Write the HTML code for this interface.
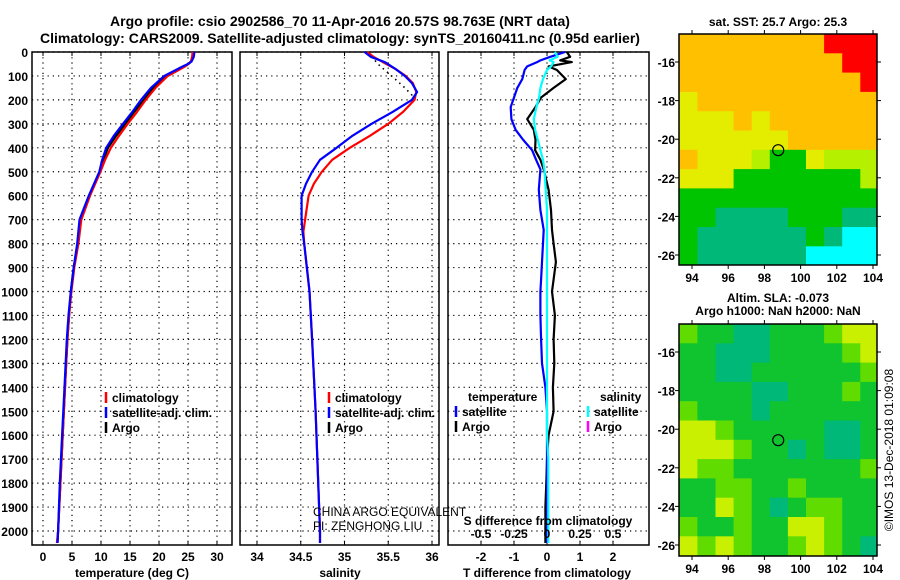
<!DOCTYPE html>
<html><head><meta charset="utf-8">
<style>
html,body{margin:0;padding:0;background:#fff;}
svg{display:block;font-family:"Liberation Sans",Arial,sans-serif;font-weight:bold;}
</style></head>
<body>
<svg id="fig" width="900" height="580" viewBox="0 0 900 580" xmlns="http://www.w3.org/2000/svg">
<text x="340" y="26" font-size="14" text-anchor="middle">Argo profile: csio 2902586_70 11-Apr-2016 20.57S 98.763E (NRT data)</text>
<text x="340" y="43" font-size="14" text-anchor="middle">Climatology: CARS2009. Satellite-adjusted climatology: synTS_20160411.nc (0.95d earlier)</text>
<g id="layer"></g>
</svg>
<script>
// ---- data ----
const depthTicks = [0,100,200,300,400,500,600,700,800,900,1000,1100,1200,1300,1400,1500,1600,1700,1800,1900,2000];
const tempTicks = [0,5,10,15,20,25,30];
const salTicks = [34,34.5,35,35.5,36];
const salTickLabels = ["34","34.5","35","35.5","36"];
const dTTicks = [-2,-1,0,1,2];
const dSTicks = [-0.5,-0.25,0,0.25,0.5];
const dSTickLabels = ["-0.5","-0.25","0","0.25","0.5"];

const tDepth   = [0,20,40,50,60,75,100,150,200,250,300,350,400,450,500,600,700,800,900,1000,1100,1200,1400,1600,1800,2000,2050];
const tArgo    = [25.9,25.8,25.5,25.0,24.3,23.2,21.3,19.0,17.4,15.7,14.2,12.6,11.2,10.4,9.8,8.0,6.5,6.0,5.3,4.8,4.5,4.2,3.8,3.4,3.0,2.6,2.5];
const tClim    = [25.8,25.7,25.5,25.1,24.5,23.4,21.5,19.4,17.7,16.2,14.6,13.1,11.7,10.7,9.9,8.1,6.6,6.1,5.4,4.9,4.5,4.2,3.8,3.4,3.0,2.6,2.4];
const tSat     = [26.1,26.0,25.6,25.0,24.1,22.9,20.9,18.6,16.9,15.4,13.8,12.2,10.9,10.2,9.7,7.9,6.3,5.9,5.3,4.8,4.4,4.1,3.7,3.3,2.9,2.6,2.5];

const sDepth   = [0,20,42,70,100,130,167,200,250,300,350,400,450,500,550,600,700,750,800,1000,1200,1500,2000,2050];
const sClim    = [35.26,35.33,35.44,35.58,35.70,35.78,35.82,35.80,35.67,35.50,35.29,35.06,34.86,34.74,34.65,34.59,34.55,34.53,34.54,34.60,34.63,34.67,34.72,34.72];
const sSat     = [35.23,35.30,35.46,35.58,35.69,35.77,35.83,35.77,35.55,35.31,35.09,34.91,34.72,34.63,34.56,34.51,34.51,34.52,34.54,34.60,34.63,34.67,34.72,34.72];
const sArgoDepth = [0,50,100,150,180,200];
const sArgo    = [35.27,35.38,35.54,35.69,35.77,35.78];

const dDepth   = [0,20,35,42,60,75,113,150,190,230,280,325,367,410,450,490,575,660,743,800,877,950,1000,1100,1200,1300,1400,1500,1600,1700,1800,1900,2000,2050];
const dTArgo   = [0.6,0.7,0.4,0.75,0.05,0.3,0.57,0.2,-0.18,-0.35,-0.6,-0.4,-0.35,-0.36,-0.2,-0.1,0.05,0.12,0.15,0.2,0.27,0.2,0.15,0.24,0.2,0.22,0.18,0.2,0.05,0.0,-0.02,-0.05,-0.05,-0.05];
const dTSat    = [0.55,0.1,-0.2,-0.3,-0.6,-0.68,-0.75,-0.9,-1.0,-1.1,-1.08,-0.95,-0.72,-0.45,-0.33,-0.2,-0.25,-0.2,-0.1,-0.12,-0.15,-0.18,-0.2,-0.2,-0.18,-0.15,-0.05,0.0,0.0,0.0,0.0,0.0,0.0,0.0];
const dSSat    = [0.06,0.08,0.02,0.05,0.03,0.0,-0.03,-0.05,-0.06,-0.08,-0.1,-0.09,-0.07,-0.05,-0.03,-0.02,-0.01,0.0,0.0,0.0,0.0,0.0,0.0,0.0,0.0,0.0,0.0,0.0,0.0,0.01,0.01,0.01,0.01,0.01];

const lonTicks = [94,96,98,100,102,104];
const latTicks = [-16,-18,-20,-22,-24,-26];
const sstRows = [
 "OOOOOOOORRR",
 "OOOOOOOOORR",
 "OOOOOOOOOOR",
 "YOOOOOOOOOO",
 "YYYOYOOOOOO",
 "YYYYYYOOOOO",
 "OYYYLGGYLLL",
 "YYYGGGGGGGL",
 "GGGGGGGGGGG",
 "GGTTTTGGGTT",
 "GTTTTTTGTCC",
 "GTTTTTTCCCC"];
const slaRows = [
 "LGGTTGGGLYY",
 "GGTTTGGGGLY",
 "GGTTGGGGGGL",
 "GGGGTTGGGLG",
 "LGGGTGGGGGG",
 "YYLGGGGGTTG",
 "YYYLGGTGTTG",
 "YLLGGGGGGGL",
 "GGLLGGLGGGG",
 "GGYLGTGLLGG",
 "LGGLGGYYLGG",
 "YLYLGGLYLGT"];
const sstColors = {O:"#ffc000",Y:"#e4ec00",L:"#b4f000",G:"#00c400",T:"#00b878",C:"#00ffff",R:"#ff0000"};
const slaColors = {G:"#10c430",T:"#00b878",L:"#60dc00",Y:"#c8f000"};
const argoLon = 98.763, argoLat = -20.57;

// ---- helpers ----
const NS="http://www.w3.org/2000/svg";
const layer=document.getElementById('layer');
function mk(tag,attrs,parent){const e=document.createElementNS(NS,tag);for(const k in attrs)e.setAttribute(k,attrs[k]);(parent||layer).appendChild(e);return e;}
function txt(s,x,y,size,anchor,parent,extra){const e=mk('text',Object.assign({x:x,y:y,'font-size':size,'text-anchor':anchor||'start'},extra||{}),parent);e.textContent=s;return e;}

const TOP=52, BOT=545;
const yD = d => TOP + d*0.2395;
const xT = t => 43 + t*5.8;
const xS = s => 257 + (s-34)*87.5;
const xDT = v => 547 + v*33;
const xDS = v => 547 + v*132;

function panel(x0,x1,name,vgrid){
  const g=mk('g',{});
  
  
  depthTicks.forEach(d=>{mk('line',{x1:x0,x2:x1,y1:yD(d),y2:yD(d),stroke:'#000','stroke-width':1.2,'stroke-dasharray':'1.2,4'},g);});
  vgrid.forEach(x=>{mk('line',{x1:x,x2:x,y1:TOP,y2:BOT,stroke:'#000','stroke-width':1.2,'stroke-dasharray':'1.2,4'},g);
    mk('line',{x1:x,x2:x,y1:BOT,y2:BOT-4,stroke:'#000'},g);mk('line',{x1:x,x2:x,y1:TOP,y2:TOP+4,stroke:'#000'},g);});
  mk('rect',{x:x0,y:TOP,width:x1-x0,height:BOT-TOP,fill:'none',stroke:'#000','stroke-width':1.5},g);
  return g;
}
function line(xs,ys,xf,color,w,name,dash){
  const pts=xs.map((v,i)=>xf(v).toFixed(1)+','+ys[i].toFixed(1)).join(' ');
  const e=mk('polyline',{points:pts,fill:'none',stroke:color,'stroke-width':w||2,'stroke-linejoin':'round'});
  if(dash)e.setAttribute('stroke-dasharray',dash);
  
  
  return e;
}
function legend(items,x,y,name){
  const g=mk('g',{});
  
  
  items.forEach((it,i)=>{
    if(it[1])mk('line',{x1:x,x2:x,y1:y+i*15-10,y2:y+i*15+1,stroke:it[1],'stroke-width':2.5},g);
    txt(it[0],x+(it[1]?6:12),y+i*15,12,'start',g);
  });
}

// ---- panel 1: temperature ----
panel(32,232,'temperature-panel',tempTicks.map(xT));
depthTicks.forEach(d=>{const t=txt(String(d),28,yD(d)+5,12,'end');});
tempTicks.forEach(t=>{txt(String(t),xT(t),561,12,'middle');});
const xt1=txt('temperature (deg C)',132,577,12,'middle');
line(tArgo,tDepth.map(yD),xT,'#000',2.2,'temp-argo-line');
line(tClim,tDepth.map(yD),xT,'#f00',2.2,'temp-climatology-line');
line(tSat,tDepth.map(yD),xT,'#00f',2.2,'temp-satellite-line');
legend([['climatology','#f00'],['satellite-adj. clim.','#00f'],['Argo','#000']],106,402,'temperature-legend');

// ---- panel 2: salinity ----
panel(240,439,'salinity-panel',salTicks.map(xS));
salTicks.forEach((s,i)=>{txt(salTickLabels[i],xS(s),561,12,'middle');});
const xt2=txt('salinity',340,577,12,'middle');
line(sArgo,sArgoDepth.map(yD),xS,'#000',1.6,'sal-argo-line','1.5,4');
line(sClim,sDepth.map(yD),xS,'#f00',2.2,'sal-climatology-line');
line(sSat,sDepth.map(yD),xS,'#00f',2.2,'sal-satellite-line');
legend([['climatology','#f00'],['satellite-adj. clim.','#00f'],['Argo','#000']],329,402,'salinity-legend');
const pi1=txt('CHINA ARGO EQUIVALENT',313,516,12,'start',null,{'font-weight':'normal'});
const pi2=txt('PI: ZENGHONG LIU',313,530,12,'start',null,{'font-weight':'normal'});

// ---- panel 3: differences ----
panel(448,649,'difference-panel',dTTicks.map(xDT));
dTTicks.forEach(t=>{txt(String(t),xDT(t),561,12,'middle');});
const xt3=txt('T difference from climatology',547,577,12,'middle');
line(dTArgo,dDepth.map(yD),xDT,'#000',2.2,'dt-argo-line');
line(dTSat,dDepth.map(yD),xDT,'#00f',2.2,'dt-satellite-line');
line(dSSat,dDepth.map(yD),xDS,'#0ff',2.2,'ds-satellite-line');
const st=txt('S difference from climatology',548,525,12,'middle');
dSTicks.forEach((s,i)=>{txt(dSTickLabels[i],xDS(s),538,12,'middle');});
legend([['temperature',null],['satellite','#00f'],['Argo','#000']],456,401,'dt-legend');
legend([['salinity',null],['satellite','#0ff'],['Argo','#f0f']],588,401,'ds-legend');

// ---- maps ----
function map(rows,colors,top,bottom,name,title1,title2,latAt16){
  const g=mk('g',{});
  
  
  const L=679,R=877;
  const xL=lon=>692+(lon-94)*18.1;
  const yL=lat=>latAt16+(-16-lat)*19.3;
  const lon0=93.3;
  const topLat=-16+(latAt16-top)/19.3;
  rows.forEach((r,i)=>{
    for(let j=0;j<r.length;j++){
      const x=xL(lon0+j), y=yL(topLat-i);
      const w=Math.min(18.1,R-x), h=Math.min(19.3,bottom-y);
      if(w>0&&h>0)mk('rect',{x:x.toFixed(1),y:y.toFixed(1),width:(w+0.5).toFixed(1),height:(h+0.5).toFixed(1),fill:colors[r[j]]},g);
    }
  });
  mk('rect',{x:L,y:top,width:R-L,height:bottom-top,fill:'none',stroke:'#000','stroke-width':1.5},g);
  lonTicks.forEach(l=>{mk('line',{x1:xL(l),x2:xL(l),y1:bottom,y2:bottom+4,stroke:'#000'},g);mk('line',{x1:xL(l),x2:xL(l),y1:top,y2:top-4,stroke:'#000'},g);txt(String(l),xL(l),bottom+17,12,'middle',g);});
  latTicks.forEach(l=>{mk('line',{x1:L-4,x2:L,y1:yL(l),y2:yL(l),stroke:'#000'},g);mk('line',{x1:R,x2:R+4,y1:yL(l),y2:yL(l),stroke:'#000'},g);txt(String(l),675,yL(l)+5,12,'end',g);});
  const c=mk('circle',{cx:xL(argoLon),cy:yL(argoLat),r:5.5,fill:'none',stroke:'#000','stroke-width':1.2},g);
  
  
  txt(title1,778,title2?top-22:top-8,12,'middle',g);
  if(title2)txt(title2,778,top-9,12,'middle',g);
}
map(sstRows,sstColors,34,265,'sst-map','sat. SST: 25.7 Argo: 25.3',null,62);
map(slaRows,slaColors,324,556,'sla-map','Altim. SLA: -0.073','Argo h1000: NaN h2000: NaN',352);
const cr=txt('©IMOS 13-Dec-2018 01:09:08',0,0,12,'middle',null,{'font-weight':'normal',transform:'translate(893,450) rotate(-90)'});


</script>
</body></html>
